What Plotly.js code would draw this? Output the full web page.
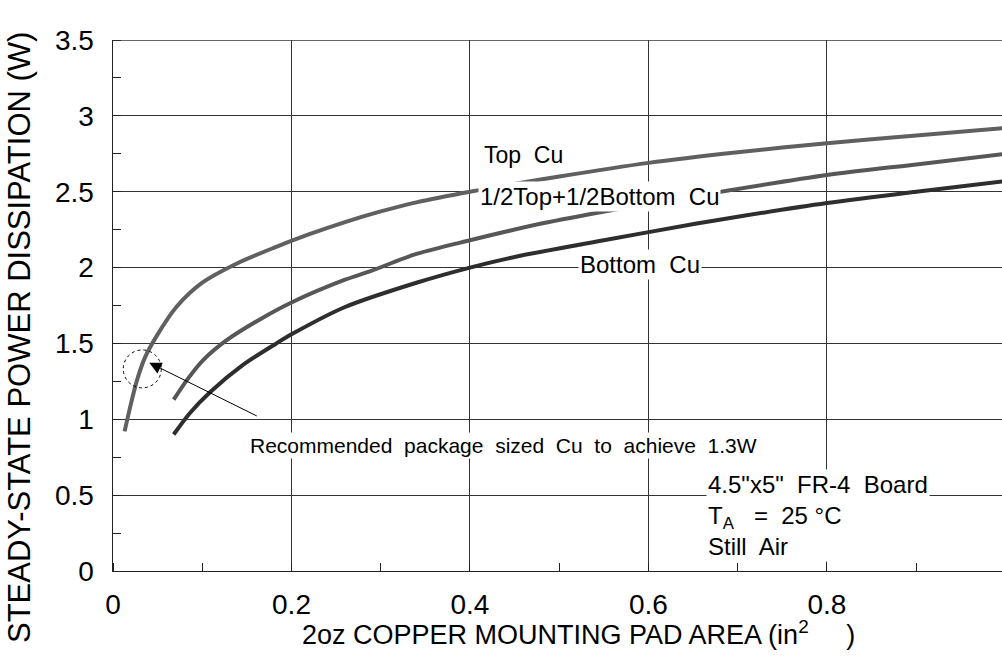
<!DOCTYPE html>
<html>
<head>
<meta charset="utf-8">
<script src="https://cdn.plot.ly/plotly-3.0.1.min.js"></script>
<style>
html,body{margin:0;padding:0;background:#fff;}
#chart{width:1002px;height:656px;}
</style>
</head>
<body>
<div id="chart"></div>
<script>
// Copper pad area (in^2) and steady-state power dissipation (W)
const topCuX = [0.013,0.02,0.027,0.036,0.049,0.071,0.1,0.14,0.18,0.22,0.26,0.3,0.34,0.4,0.5,0.6,0.7,0.8,0.9,1.0];
const topCuY = [0.92,1.10,1.26,1.41,1.55,1.74,1.90,2.03,2.13,2.22,2.30,2.37,2.43,2.50,2.60,2.69,2.76,2.82,2.87,2.92];

const halfCuX = [0.068,0.083,0.101,0.127,0.165,0.2,0.26,0.29,0.34,0.4,0.48,0.56,0.66,0.8,0.9,1.0];
const halfCuY = [1.13,1.26,1.39,1.52,1.66,1.77,1.92,1.98,2.09,2.18,2.29,2.38,2.48,2.61,2.68,2.75];

const botCuX = [0.068,0.086,0.109,0.146,0.183,0.2,0.26,0.34,0.4,0.45,0.55,0.654,0.7,0.8,0.9,1.0];
const botCuY = [0.90,1.04,1.18,1.36,1.50,1.56,1.74,1.90,2.00,2.07,2.18,2.29,2.335,2.425,2.50,2.57];

const xTicks = [0,0.2,0.4,0.6,0.8,1];
const xTickText = ["0","0.2","0.4","0.6","0.8","1"];
const yTicks = [0,0.5,1,1.5,2,2.5,3,3.5];
const yTickText = ["0","0.5","1","1.5","2","2.5","3","3.5"];

const FONT = "Liberation Sans, Arial, Helvetica, sans-serif";

const traces = [
  {x: topCuX, y: topCuY, mode: "lines", name: "Top Cu", line: {color: "#606060", width: 4, shape: "spline", smoothing: 0.8}},
  {x: halfCuX, y: halfCuY, mode: "lines", name: "1/2Top+1/2Bottom Cu", line: {color: "#575757", width: 4, shape: "spline", smoothing: 0.8}},
  {x: botCuX, y: botCuY, mode: "lines", name: "Bottom Cu", line: {color: "#2e2e2e", width: 4, shape: "spline", smoothing: 0.8}}
];

const layout = {
  width: 1002, height: 656,
  margin: {l: 113, r: 0, t: 40, b: 85, pad: 0},
  paper_bgcolor: "#fff", plot_bgcolor: "#fff",
  showlegend: false,
  font: {family: FONT, color: "#000"},
  xaxis: {
    range: [0, 0.9961], tickvals: xTicks, ticktext: xTickText,
    showgrid: true, gridcolor: "#333", gridwidth: 1,
    showline: true, linecolor: "#222", linewidth: 1, mirror: false,
    ticks: "", zeroline: false,
    tickfont: {size: 28, family: FONT},
    ticklabelstandoff: 8,
    minor: {dtick: 0.1, tick0: 0, ticks: "inside", ticklen: 8, tickcolor: "#222", showgrid: false}
  },
  yaxis: {
    range: [0, 3.5], tickvals: yTicks, ticktext: yTickText,
    showgrid: true, gridcolor: "#333", gridwidth: 1,
    showline: true, linecolor: "#222", linewidth: 1.5,
    ticks: "", zeroline: false,
    tickfont: {size: 28, family: FONT},
    ticklabelstandoff: 12,
    minor: {dtick: 0.25, tick0: 0, ticks: "inside", ticklen: 8, tickcolor: "#222", showgrid: false}
  },
  shapes: [
    {type: "line", xref: "x", yref: "y", x0: 0, x1: 0.9961, y0: 3.5, y1: 3.5, line: {color: "#333", width: 1.5}},
    {type: "circle", xref: "x", yref: "y", x0: 0.0115, x1: 0.0541, y0: 1.207, y1: 1.457, line: {color: "#000", width: 1, dash: "dot"}, layer: "above"}
  ],
  annotations: [
    {xref: "paper", yref: "paper", x: -0.105, y: 0.44, xanchor: "center", yanchor: "middle", textangle: -90,
     text: "STEADY-STATE POWER DISSIPATION (W)", showarrow: false, font: {size: 31, family: FONT}},
    {xref: "paper", yref: "paper", x: 0.524, y: -0.152, xanchor: "center", yanchor: "bottom",
     text: "2oz COPPER MOUNTING PAD AREA (in<sup>2</sup>     )", showarrow: false, font: {size: 27, family: FONT}},
    {xref: "x", yref: "y", x: 0.413, y: 2.74, xanchor: "left", yanchor: "middle",
     text: "Top  Cu", showarrow: false, font: {size: 23, family: FONT}},
    {xref: "x", yref: "y", x: 0.409, y: 2.47, xanchor: "left", yanchor: "middle",
     text: "1/2Top+1/2Bottom  Cu", showarrow: false, bgcolor: "#fff", font: {size: 24, family: FONT}},
    {xref: "x", yref: "y", x: 0.521, y: 2.02, xanchor: "left", yanchor: "middle",
     text: "Bottom  Cu", showarrow: false, bgcolor: "#fff", font: {size: 24, family: FONT}},
    {xref: "x", yref: "y", x: 0.151, y: 0.83, xanchor: "left", yanchor: "middle",
     text: "Recommended  package  sized  Cu  to  achieve  1.3W", showarrow: false, bgcolor: "#fff", font: {size: 21, family: FONT}},
    {xref: "x", yref: "y", x: 0.664, y: 0.365, xanchor: "left", yanchor: "middle", align: "left",
     text: "4.5\"x5\"  FR-4  Board<br>T<sub>A</sub>   =  25 °C<br>Still  Air", showarrow: false, bgcolor: "#fff",
     font: {size: 24, family: FONT}},
    {xref: "x", yref: "y", x: 0.0407, y: 1.373, axref: "x", ayref: "y", ax: 0.1628, ay: 1.017,
     text: "", showarrow: true, arrowhead: 2, arrowsize: 2.4, arrowwidth: 1, arrowcolor: "#000"}
  ]
};

Plotly.newPlot("chart", traces, layout, {staticPlot: true, displayModeBar: false});
</script>
</body>
</html>
